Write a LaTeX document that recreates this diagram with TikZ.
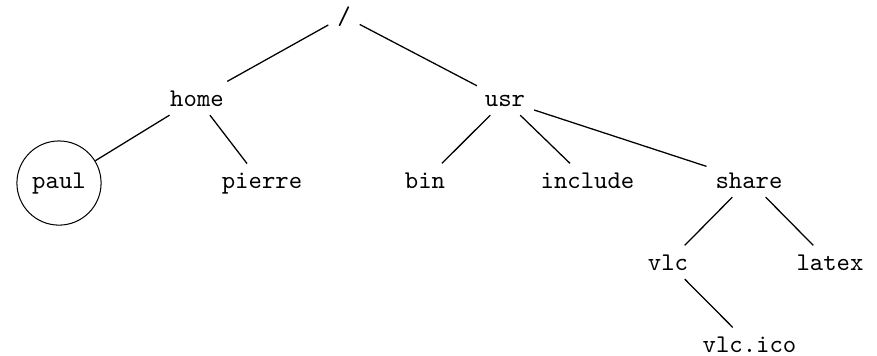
\documentclass[tikz,border=0pt]{standalone}
\begin{document}
\begin{tikzpicture}[x=0.392pt,y=-0.392pt,
  dir/.style={font=\ttfamily, anchor=base},
  circ/.style={dir, draw, circle, minimum size=33pt, inner sep=1pt},
  edge/.style={draw, line width=0.5pt}]
\useasboundingbox (0,0) rectangle (877,356);
\node[dir] (root) at (344,24) {/};
\node[dir] (home) at (197,106) {home};
\node[dir] (usr) at (505,106) {usr};
\node[circ] (paul) at (59,188) {paul};
\node[dir] (pierre) at (262,188) {pierre};
\node[dir] (bin) at (425,188) {bin};
\node[dir] (include) at (587.5,188) {include};
\node[dir] (share) at (749,188) {share};
\node[dir] (vlc) at (668,270) {vlc};
\node[dir] (latex) at (830,270) {latex};
\node[dir] (vlcico) at (749.5,352) {vlc.ico};
\draw[edge] (root) -- (home);
\draw[edge] (root) -- (usr);
\draw[edge] (home) -- (paul);
\draw[edge] (home) -- (pierre);
\draw[edge] (usr) -- (bin);
\draw[edge] (usr) -- (include);
\draw[edge] (usr) -- (share);
\draw[edge] (share) -- (vlc);
\draw[edge] (share) -- (latex);
\draw[edge] (vlc) -- (vlcico);
\end{tikzpicture}
\end{document}
